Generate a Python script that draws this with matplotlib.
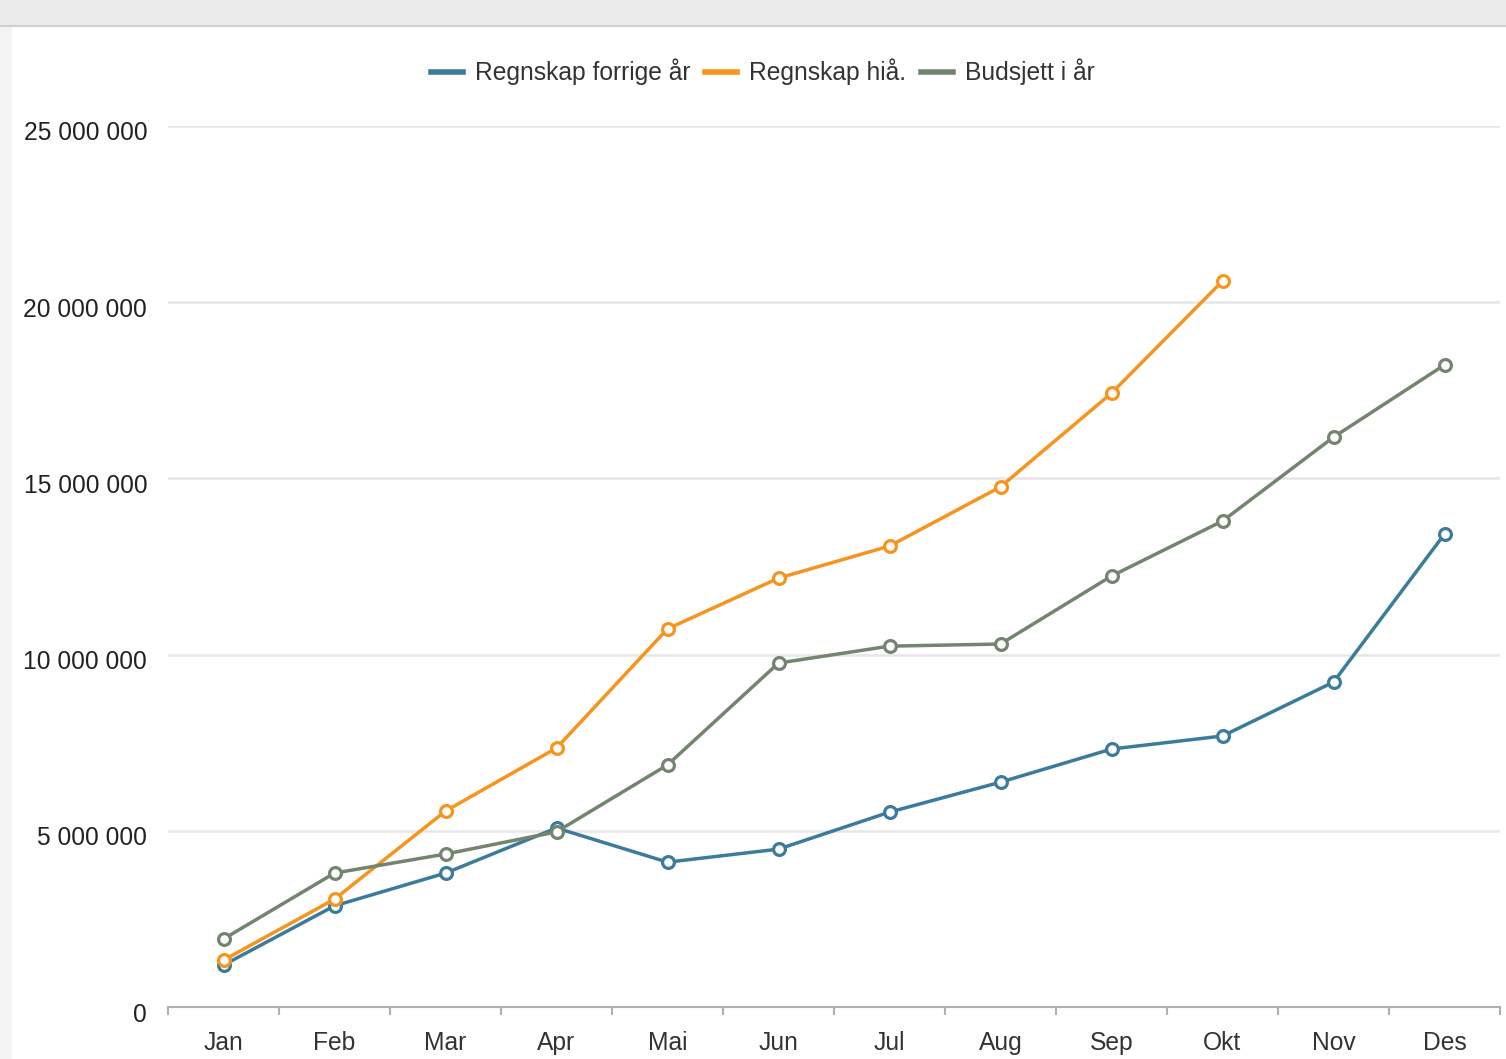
import matplotlib
matplotlib.use("Agg")
import matplotlib.pyplot as plt
from matplotlib.patches import Rectangle
from matplotlib.lines import Line2D
import matplotlib.transforms as mtransforms
import numpy as np

months = ["Jan", "Feb", "Mar", "Apr", "Mai", "Jun", "Jul", "Aug", "Sep", "Okt", "Nov", "Des"]
forrige = [1.19e6, 2.87e6, 3.80e6, 5.08e6, 4.11e6, 4.48e6, 5.53e6, 6.38e6, 7.32e6, 7.69e6, 9.22e6, 13.42e6]
hia = [1.33e6, 3.06e6, 5.56e6, 7.35e6, 10.73e6, 12.17e6, 13.08e6, 14.76e6, 17.42e6, 20.60e6]
budsjett = [1.93e6, 3.80e6, 4.34e6, 4.97e6, 6.87e6, 9.76e6, 10.24e6, 10.30e6, 12.23e6, 13.79e6, 16.17e6, 18.22e6]
series_names = ["Regnskap forrige år", "Regnskap hiå.", "Budsjett i år"]
yticks = [0, 5e6, 10e6, 15e6, 20e6, 25e6]

colors = ["#3b7b9b", "#f7941e", "#73856f"]

plt.rcParams['font.family'] = ['Liberation Sans', 'DejaVu Sans']

W, H = 1506, 1059
fig = plt.figure(figsize=(W / 100, H / 100), dpi=100)
fig.patch.set_facecolor("white")

# browser chrome-like background bands
fig.patches.append(Rectangle((0, 1 - 25 / H), 1, 25 / H, transform=fig.transFigure,
                             facecolor="#ebebeb", edgecolor="none", zorder=0))
fig.lines.append(Line2D([0, 1], [1 - 26 / H, 1 - 26 / H], transform=fig.transFigure,
                        color="#cfcfcf", lw=1.5, zorder=1))
fig.patches.append(Rectangle((0, 0), 12 / W, 1 - 27 / H, transform=fig.transFigure,
                             facecolor="#f3f3f3", edgecolor="none", zorder=0))

left, right = 168 / W, 1500 / W
bottom, top = (H - 1007) / H, (H - 126) / H
ax = fig.add_axes([left, bottom, right - left, top - bottom])
ax.set_facecolor("none")

data = [forrige, hia, budsjett]
for vals, c, name in zip(data, colors, series_names):
    x = np.arange(len(vals))
    ax.plot(x, vals, color=c, lw=2.5, marker="o", markersize=8.5,
            markerfacecolor="white", markeredgecolor=c, markeredgewidth=2.3,
            label=name, zorder=3, solid_joinstyle="round")

ax.set_xlim(-0.5, 11.5)
ax.set_ylim(0, 25e6)
ax.set_xticks(np.arange(12))
ax.set_xticklabels(months)
ax.set_xticks(np.arange(-0.5, 12, 1), minor=True)
ax.tick_params(axis="x", which="major", length=0, pad=17, labelsize=17.7, labelcolor="#333333")
ax.tick_params(axis="x", which="minor", length=6, width=1.5, color="#b0b0b0")

ax.set_yticks(yticks)
ax.set_yticklabels([f"{int(v):,}".replace(",", " ") for v in yticks])
ax.tick_params(axis="y", length=0, pad=15, labelsize=17.7, labelcolor="#222222")
shift = mtransforms.ScaledTranslation(0, -5 / 100, fig.dpi_scale_trans)
for lab in ax.get_yticklabels():
    lab.set_transform(lab.get_transform() + shift)

ax.grid(axis="y", color="#e6e6e6", lw=1.8, zorder=0)
ax.set_axisbelow(True)
for s in ["top", "right", "left"]:
    ax.spines[s].set_visible(False)
ax.spines["bottom"].set_color("#b0b0b0")
ax.spines["bottom"].set_linewidth(1.5)

handles = [Line2D([0], [0], color=c, lw=4) for c in colors]
fig.legend(handles, series_names, loc="center", bbox_to_anchor=(763 / W, 1 - 72 / H),
           ncol=3, frameon=False, fontsize=17.7, handlelength=1.3, handletextpad=0.5,
           columnspacing=0.6, labelcolor="#333333")

fig.savefig("out.png", dpi=100)
